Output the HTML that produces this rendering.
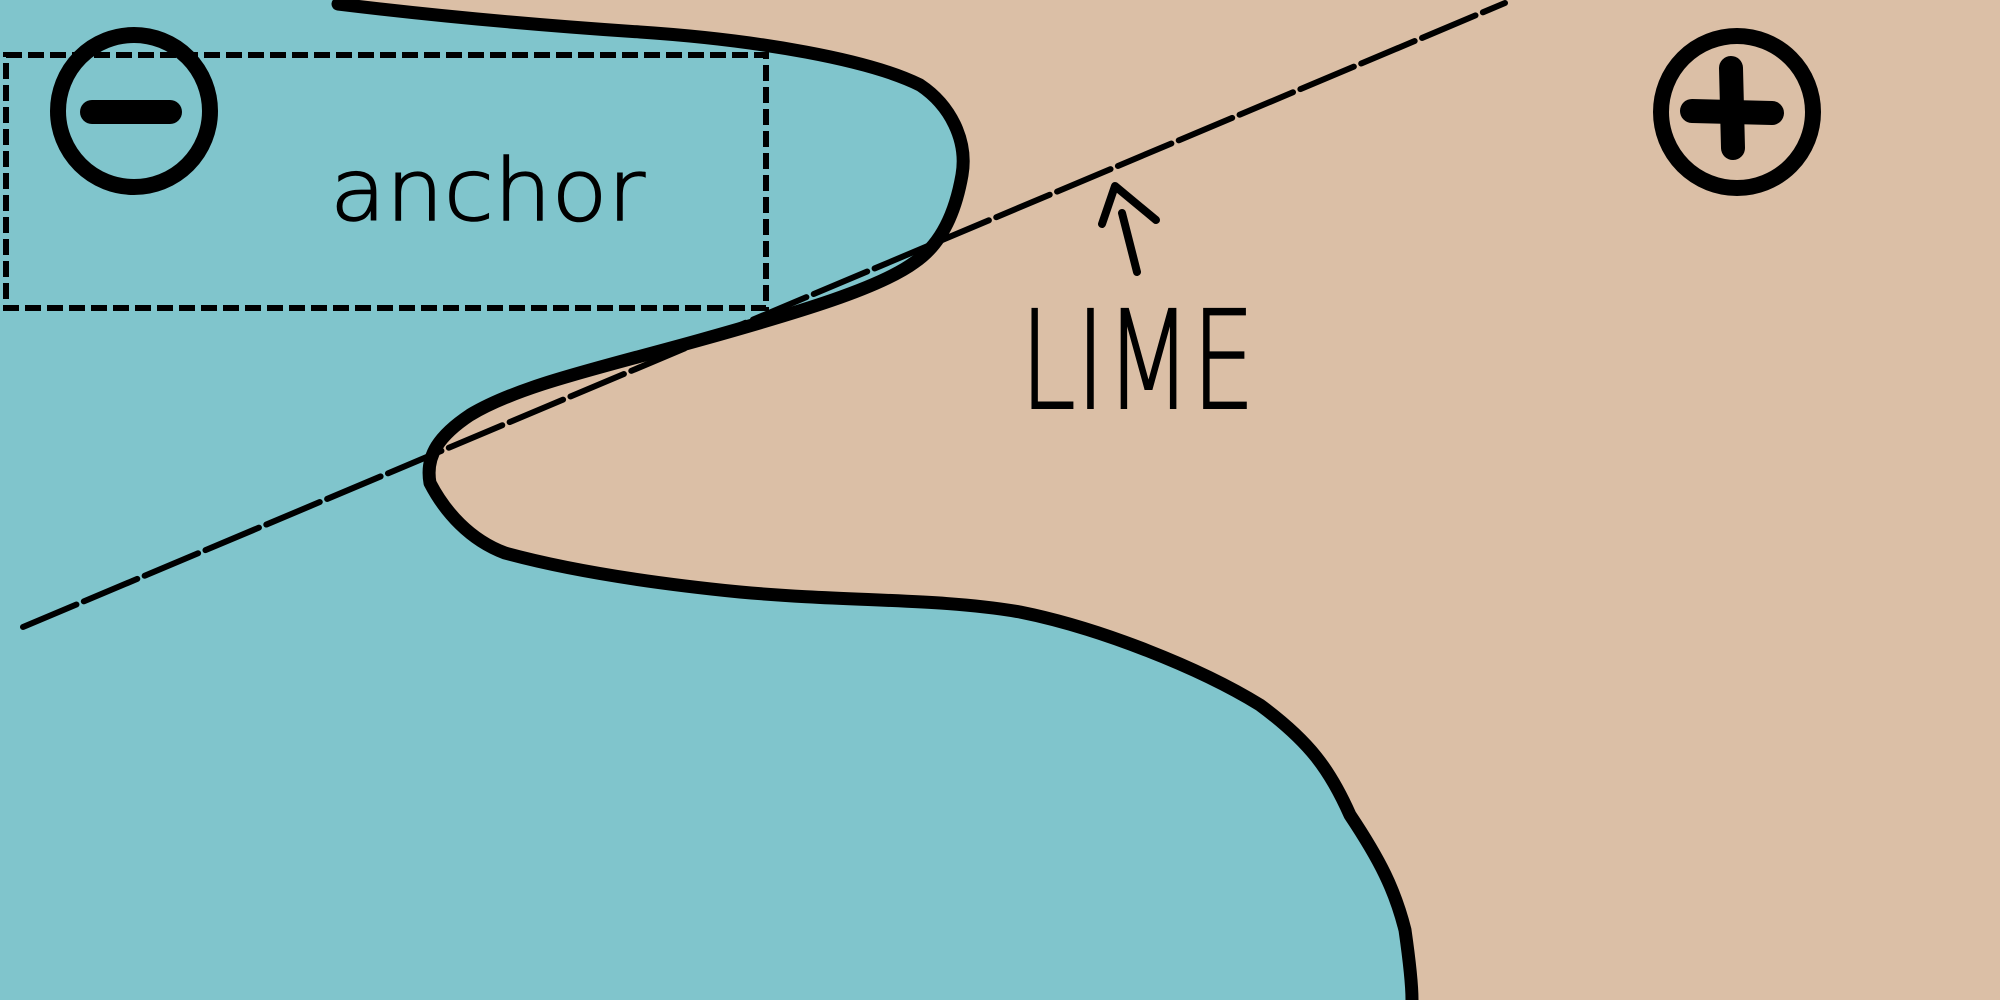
<!DOCTYPE html>
<html><head><meta charset="utf-8"><style>
html,body{margin:0;padding:0;width:2000px;height:1000px;overflow:hidden;background:#dbbfa6}
svg{display:block}
</style></head><body>
<svg width="2000" height="1000" viewBox="0 0 2000 1000" xmlns="http://www.w3.org/2000/svg">
<rect x="0" y="0" width="2000" height="1000" fill="#dbbfa6"/>
<path fill="#80c5cc" stroke="none"
 d="M0,0 L338,0 L338,4 C420,14 520,24 640,32 C760,40 870,60 920,85 C950,105 968,140 962,175 C955,215 940,245 915,262 C880,288 800,312 700,340 C600,368 520,385 470,415 C440,435 425,455 430,483 C445,512 470,540 505,553 C560,568 640,582 740,592 C850,602 940,598 1020,612 C1100,628 1200,668 1260,705 C1310,742 1330,770 1350,815 C1380,860 1395,890 1405,930 C1410,965 1412,985 1412,1000 L0,1000 Z"/>
<path fill="none" stroke="#000" stroke-width="13" stroke-linecap="round" stroke-linejoin="round"
 d="M338,4 C420,14 520,24 640,32 C760,40 870,60 920,85 C950,105 968,140 962,175 C955,215 940,245 915,262 C880,288 800,312 700,340 C600,368 520,385 470,415 C440,435 425,455 430,483 C445,512 470,540 505,553 C560,568 640,582 740,592 C850,602 940,598 1020,612 C1100,628 1200,668 1260,705 C1310,742 1330,770 1350,815 C1380,860 1395,890 1405,930 C1410,965 1412,985 1412,1000"/>
<rect x="6" y="55" width="760" height="253" fill="none" stroke="#000" stroke-width="6" stroke-dasharray="16,6"/>
<line x1="23" y1="627" x2="1505" y2="3" stroke="#000" stroke-width="6" stroke-linecap="round" stroke-dasharray="58,8"/>
<g>
<circle cx="134" cy="111" r="76" fill="none" stroke="#000" stroke-width="16"/>
<line x1="92" y1="112" x2="170" y2="112" stroke="#000" stroke-width="24" stroke-linecap="round"/>
</g>
<g>
<circle cx="1737" cy="112" r="76" fill="none" stroke="#000" stroke-width="16"/>
<line x1="1692" y1="111" x2="1772" y2="113" stroke="#000" stroke-width="24" stroke-linecap="round"/>
<line x1="1731" y1="68" x2="1733" y2="148" stroke="#000" stroke-width="24" stroke-linecap="round"/>
</g>
<text x="330" y="220" font-family="DejaVu Sans, sans-serif" font-size="86" font-weight="300" stroke="#000" stroke-width="1.5" textLength="315" lengthAdjust="spacingAndGlyphs" fill="#000">anchor</text>
<g fill="none" stroke="#000" stroke-width="8" stroke-linecap="round" stroke-linejoin="round">
<path d="M1122,213 L1137,272"/>
<path d="M1102,224 L1115,186 L1156,220"/>
</g>
<text x="1020" y="408" font-family="DejaVu Sans, sans-serif" font-size="136" font-weight="300" stroke="#000" stroke-width="2" textLength="235" lengthAdjust="spacingAndGlyphs" fill="#000">LIME</text>
</svg>
</body></html>
